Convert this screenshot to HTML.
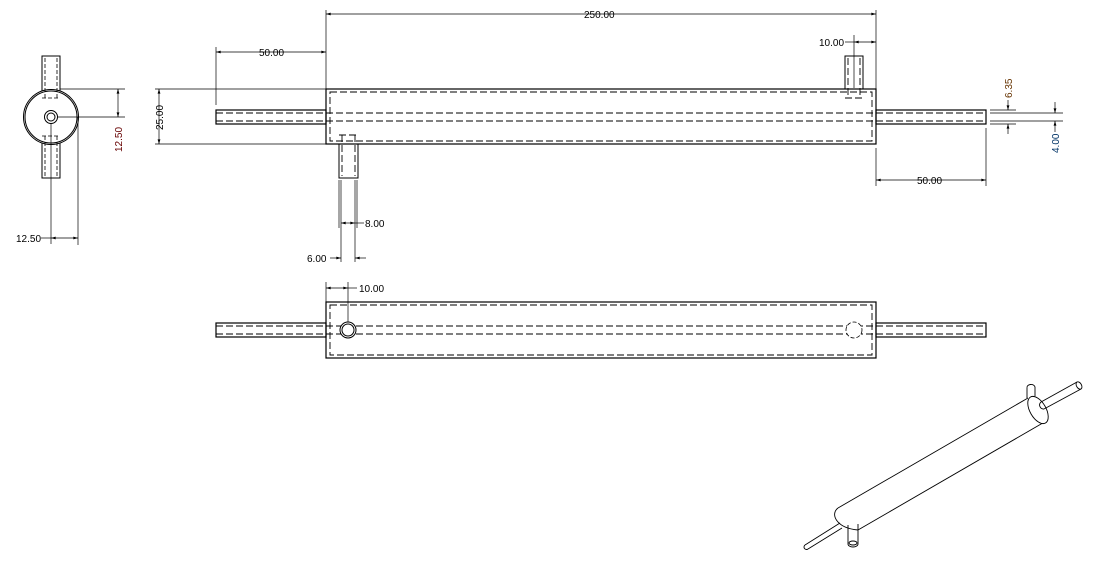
<!DOCTYPE html>
<html><head><meta charset="utf-8"><style>
html,body{margin:0;padding:0;background:#fff;}
svg{display:block}
text{font-family:"Liberation Sans",sans-serif;font-size:10px;fill:#000}
</style></head><body>
<svg width="1107" height="563" viewBox="0 0 1107 563" xmlns="http://www.w3.org/2000/svg">
<defs>
<marker id="a" viewBox="0 0 10 6" refX="10" refY="3" markerWidth="8" markerHeight="4" orient="auto-start-reverse"><path d="M0,0L10,3L0,6z" fill="#000"/></marker>
</defs>
<g fill="none" stroke="#000" stroke-width="1">
<rect x="42" y="56" width="18" height="36"/>
<rect x="42" y="142" width="18" height="36"/>
<circle cx="51" cy="117" r="27.5" fill="#fff"/>
<circle cx="51" cy="117" r="26"/>
<circle cx="51" cy="117" r="6.5"/>
<circle cx="51" cy="117" r="4"/>
<g stroke-dasharray="4,2" stroke-width="0.8">
<line x1="45" y1="58" x2="45" y2="98"/><line x1="57" y1="58" x2="57" y2="98"/>
<line x1="42" y1="98" x2="60" y2="98"/>
<line x1="45" y1="136" x2="45" y2="176"/><line x1="57" y1="136" x2="57" y2="176"/>
<line x1="42" y1="136" x2="60" y2="136"/>
</g>
<g stroke-width="0.7">
<line x1="60" y1="89" x2="125" y2="89"/>
<line x1="57" y1="117" x2="125" y2="117"/>
<line x1="118" y1="89" x2="118" y2="117" marker-start="url(#a)" marker-end="url(#a)"/>
<line x1="51" y1="123" x2="51" y2="244"/>
<line x1="78" y1="117" x2="78" y2="245"/>
<line x1="51" y1="238" x2="78" y2="238" marker-start="url(#a)" marker-end="url(#a)"/>
<line x1="41" y1="238" x2="51" y2="238"/>
</g>
<rect x="326" y="89" width="550" height="55" stroke-width="1.2"/>
<rect x="216" y="110" width="110" height="14" stroke-width="1.2"/>
<rect x="876" y="110" width="110" height="14" stroke-width="1.2"/>
<rect x="845" y="56" width="18" height="33"/>
<rect x="339" y="144" width="19" height="34"/>
<g stroke-dasharray="7,3" stroke-width="0.9">
<rect x="330" y="92" width="542" height="49"/>
<line x1="216" y1="113" x2="986" y2="113"/>
<line x1="216" y1="121" x2="986" y2="121"/>
<line x1="848" y1="58" x2="848" y2="98"/><line x1="860" y1="58" x2="860" y2="98"/>
<line x1="845" y1="98" x2="863" y2="98"/>
<line x1="342" y1="135" x2="342" y2="176"/><line x1="355" y1="135" x2="355" y2="176"/>
<line x1="339" y1="135" x2="358" y2="135"/>
</g>
<g stroke-width="0.7">
<line x1="326" y1="10" x2="326" y2="89"/>
<line x1="876" y1="10" x2="876" y2="89"/>
<line x1="326" y1="14" x2="876" y2="14" marker-start="url(#a)" marker-end="url(#a)"/>
<line x1="216" y1="47" x2="216" y2="105"/>
<line x1="216" y1="52" x2="326" y2="52" marker-start="url(#a)" marker-end="url(#a)"/>
<line x1="155" y1="89" x2="326" y2="89"/>
<line x1="155" y1="144" x2="326" y2="144"/>
<line x1="159" y1="89" x2="159" y2="144" marker-start="url(#a)" marker-end="url(#a)"/>
<line x1="854" y1="35" x2="854" y2="88"/>
<line x1="854" y1="42" x2="876" y2="42" marker-start="url(#a)" marker-end="url(#a)"/>
<line x1="845" y1="42" x2="854" y2="42"/>
<line x1="876" y1="148" x2="876" y2="186"/>
<line x1="986" y1="128" x2="986" y2="186"/>
<line x1="876" y1="180" x2="986" y2="180" marker-start="url(#a)" marker-end="url(#a)"/>
<line x1="990" y1="110" x2="1016" y2="110"/>
<line x1="990" y1="124" x2="1016" y2="124"/>
<line x1="1008" y1="100" x2="1008" y2="110" marker-end="url(#a)"/>
<line x1="1008" y1="134" x2="1008" y2="124" marker-end="url(#a)"/>
<line x1="990" y1="113" x2="1063" y2="113"/>
<line x1="990" y1="121" x2="1063" y2="121"/>
<line x1="1055" y1="102" x2="1055" y2="113" marker-end="url(#a)"/>
<line x1="1055" y1="132" x2="1055" y2="121" marker-end="url(#a)"/>
<line x1="339" y1="180" x2="339" y2="228"/>
<line x1="341" y1="180" x2="341" y2="262"/>
<line x1="355" y1="180" x2="355" y2="262"/>
<line x1="357" y1="180" x2="357" y2="228"/>
<line x1="341" y1="223" x2="355" y2="223" marker-start="url(#a)" marker-end="url(#a)"/>
<line x1="355" y1="223" x2="364" y2="223"/>
<line x1="330" y1="258" x2="341" y2="258" marker-end="url(#a)"/>
<line x1="366" y1="258" x2="355" y2="258" marker-end="url(#a)"/>
</g>
<rect x="326" y="302" width="550" height="56" stroke-width="1.2"/>
<rect x="216" y="323" width="110" height="14" stroke-width="1.2"/>
<rect x="876" y="323" width="110" height="14" stroke-width="1.2"/>
<g stroke-dasharray="7,3" stroke-width="0.9">
<rect x="330" y="305" width="542" height="50"/>
<line x1="216" y1="326" x2="986" y2="326"/>
<line x1="216" y1="334" x2="986" y2="334"/>
</g>
<circle cx="348" cy="330" r="8" fill="#fff"/>
<circle cx="348" cy="330" r="6"/>
<circle cx="854" cy="330" r="8" stroke-dasharray="4,2" fill="#fff" stroke-width="0.8"/>
<g stroke-width="0.7">
<line x1="326" y1="282" x2="326" y2="302"/>
<line x1="348" y1="282" x2="348" y2="322"/>
<line x1="326" y1="288" x2="348" y2="288" marker-start="url(#a)" marker-end="url(#a)"/>
<line x1="348" y1="288" x2="357" y2="288"/>
</g>
<g stroke-width="0.9">
<line x1="805" y1="545" x2="840" y2="523"/>
<line x1="808" y1="549" x2="842" y2="528"/>
<path d="M805,545 a2.5,2.5 0 0 0 3,4"/>
<line x1="838" y1="508" x2="1028" y2="398"/>
<line x1="858" y1="530" x2="1048" y2="420"/>
<path d="M838,508 C830,514 836,528 858,530"/>
<ellipse cx="1038" cy="410" rx="8" ry="15" transform="rotate(-30 1038 410)" fill="#fff"/>
<path d="M1027,398 L1027,388 a4,3 0 0 1 8,-1 L1035,396"/>
<line x1="1041" y1="402" x2="1077" y2="382"/>
<line x1="1044" y1="409" x2="1081" y2="389"/>
<path d="M1041,402 a4,4 0 0 0 3,7"/>
<ellipse cx="1079" cy="385.5" rx="2.5" ry="4" transform="rotate(-30 1079 385.5)"/>
<path d="M848,525 L848,544 a5,3 0 0 0 10,0 L858,524"/>
<ellipse cx="853" cy="543" rx="4" ry="2"/>
</g>
</g>
<text x="259" y="56">50.00</text>
<text x="584" y="18">250.00</text>
<text x="819" y="46">10.00</text>
<text x="917" y="184">50.00</text>
<text x="365" y="227">8.00</text>
<text x="307" y="262">6.00</text>
<text x="359" y="292">10.00</text>
<text x="16" y="242">12.50</text>
<text transform="translate(122,152) rotate(-90)" style="fill:#600">12.50</text>
<text transform="translate(163,130) rotate(-90)">25.00</text>
<text transform="translate(1012,98) rotate(-90)" style="fill:#630">6.35</text>
<text transform="translate(1059,153) rotate(-90)" style="fill:#036">4.00</text>
</svg>
</body></html>
